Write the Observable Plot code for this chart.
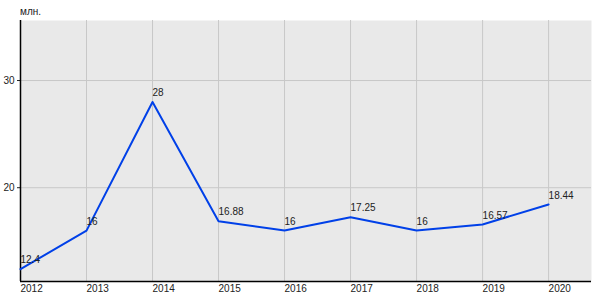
<!DOCTYPE html>
<html><head><meta charset="utf-8">
<script src="https://cdn.jsdelivr.net/npm/d3@7"></script>
<script src="https://cdn.jsdelivr.net/npm/@observablehq/plot@0.6"></script>
<style>
body{margin:0;background:#fff;}
#chart{position:relative;width:600px;height:300px;}
#ylab{position:absolute;left:20px;top:6px;font:10px "Liberation Sans",Arial,sans-serif;color:#222;}
</style>
</head><body>
<div id="chart"><div id="ylab">млн.</div></div>
<script>
const years = [2012, 2013, 2014, 2015, 2016, 2017, 2018, 2019, 2020];
const values = [12.4, 16, 28, 16.88, 16, 17.25, 16, 16.57, 18.44];
const labels = ["12.4", "16", "28", "16.88", "16", "17.25", "16", "16.57", "18.44"];
const yTicks = [20, 30];

const data = years.map((y, i) => ({year: y, value: values[i], label: labels[i]}));
const xDomain = [2012, 2020.65];
const yDomain = [11.25, 35.6];

const chart = Plot.plot({
  width: 600, height: 300,
  marginLeft: 20, marginTop: 20, marginBottom: 19, marginRight: 9,
  style: {fontFamily: '"Liberation Sans", Arial, sans-serif', fontSize: "10px", color: "#222", background: "transparent"},
  x: {domain: xDomain, label: null},
  y: {domain: yDomain, label: null},
  marks: [
    Plot.frame({fill: "#e9e9e9", stroke: null}),
    Plot.ruleX(years, {stroke: "#c8c8c8", strokeWidth: 1}),
    Plot.ruleY(yTicks, {stroke: "#c8c8c8", strokeWidth: 1}),
    Plot.axisX({ticks: years, tickFormat: d => String(d), tickSize: 0, tickPadding: 3, textAnchor: "start", label: null, fill: "#222"}),
    Plot.axisY({ticks: yTicks, tickSize: 3, tickPadding: 3, label: null, fill: "#222"}),
    Plot.ruleX([xDomain[0]], {stroke: "#000", strokeWidth: 1.5}),
    Plot.ruleY([yDomain[0]], {stroke: "#000", strokeWidth: 1.5}),
    Plot.line(data, {x: "year", y: "value", stroke: "#0040e8", strokeWidth: 2}),
    Plot.text(data, {x: "year", y: "value", text: "label", textAnchor: "start", dy: -9, fill: "#222", fontSize: 10})
  ]
});
document.getElementById("chart").appendChild(chart);
</script>
</body></html>
